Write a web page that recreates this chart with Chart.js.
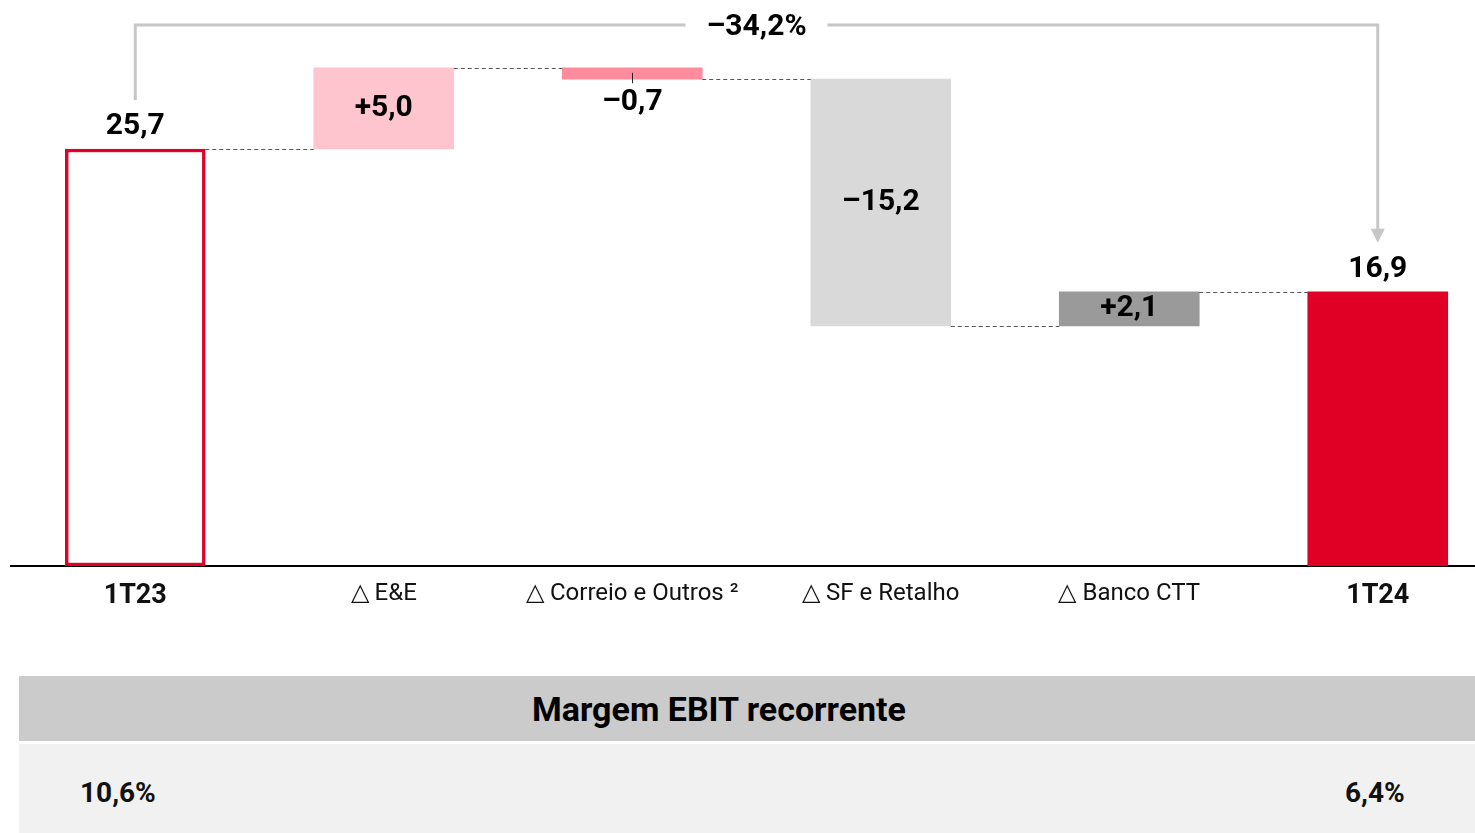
<!DOCTYPE html>
<html>
<head>
<meta charset="utf-8">
<script src="https://cdn.jsdelivr.net/npm/chart.js@4.4.0/dist/chart.umd.min.js"></script>
<style>
  html, body { margin: 0; padding: 0; overflow: hidden; background: #fff; }
  body { width: 1475px; height: 833px; position: relative; font-family: Roboto, 'Noto Sans', sans-serif; }
  #chart { position: absolute; left: 0; top: 0; }
  .band { position: absolute; left: 19px; width: 1456px; }
  .head { top: 676px; height: 65px; background: #cbcbcb; }
  .head span { position: absolute; left: 0; width: 1400px; top: 13px; text-align: center; font-weight: 700; font-size: 34px; color: #000; }
  .row { top: 744px; height: 89px; background: #f1f1f1; }
  .row span { position: absolute; top: 32px; font-weight: 700; font-size: 28px; color: #111; }
</style>
</head>
<body>
<canvas id="chart" width="1502" height="640"></canvas>
<div class="band head"><span id="tableTitle"></span></div>
<div class="band row"><span id="marginStart" style="left:61px"></span><span id="marginEnd" style="left:1326px"></span></div>

<script>
const categories = ['1T23', '△ E&E', '△ Correio e Outros ²', '△ SF e Retalho', '△ Banco CTT', '1T24'];
// first and last are totals, the rest are changes
const values = [25.7, 5.0, -0.7, -15.2, 2.1, 16.9];
const barColors = ['#ffffff', '#ffc5cf', '#ff8c9d', '#d9d9d9', '#9a9a9a', '#e00026'];
const marginTitle = 'Margem EBIT recorrente';
const margins = ['10,6%', '6,4%'];

document.getElementById('tableTitle').textContent = marginTitle;
document.getElementById('marginStart').textContent = margins[0];
document.getElementById('marginEnd').textContent = margins[1];

// running totals and floating bar ranges
const runningTotals = [];
const ranges = [];
let total = 0;
values.forEach((v, i) => {
  if (i === 0 || i === values.length - 1) {
    total = v;
    ranges.push([0, v]);
  } else {
    ranges.push([Math.min(total, total + v), Math.max(total, total + v)]);
    total += v;
  }
  runningTotals.push(total);
});

const fmt = (v, sign) => {
  const s = Math.abs(v).toFixed(1).replace('.', ',');
  if (!sign) return s;
  return (v < 0 ? '–' : '+') + s;
};

const waterfallExtras = {
  id: 'waterfallExtras',
  afterDatasetsDraw(chart) {
    const ctx = chart.ctx;
    const meta = chart.getDatasetMeta(0);
    const y = chart.scales.y;
    const bars = meta.data;
    ctx.save();

    // dashed connectors
    ctx.strokeStyle = '#555';
    ctx.lineWidth = 1.2;
    ctx.setLineDash([4, 3]);
    for (let i = 0; i < bars.length - 1; i++) {
      const a = bars[i], b = bars[i + 1];
      const py = Math.round(y.getPixelForValue(runningTotals[i])) + 0.5;
      ctx.beginPath();
      ctx.moveTo(a.x + a.width / 2, py);
      ctx.lineTo(b.x - b.width / 2, py);
      ctx.stroke();
    }
    ctx.setLineDash([]);

    // value labels
    ctx.fillStyle = '#000';
    ctx.font = 'bold 30px Roboto';
    ctx.textAlign = 'center';
    ctx.textBaseline = 'middle';
    bars.forEach((bar, i) => {
      const top = Math.min(bar.y, bar.base);
      const bottom = Math.max(bar.y, bar.base);
      const isTotal = i === 0 || i === bars.length - 1;
      const text = fmt(values[i], !isTotal);
      if (isTotal) {
        ctx.fillText(text, bar.x, top - 22);
      } else if (bottom - top > 30) {
        ctx.fillText(text, bar.x, (top + bottom) / 2);
      } else {
        ctx.fillText(text, bar.x, bottom + 23);
        ctx.strokeStyle = '#222';
        ctx.lineWidth = 1;
        ctx.beginPath();
        ctx.moveTo(Math.round(bar.x) + 0.5, top + 5);
        ctx.lineTo(Math.round(bar.x) + 0.5, bottom + 4);
        ctx.stroke();
      }
    });

    // overall change bracket
    const first = bars[0], last = bars[bars.length - 1];
    const change = (values[values.length - 1] / values[0] - 1) * 100;
    const pctText = '–' + Math.abs(change).toFixed(1).replace('.', ',') + '%';
    const topY = 25;
    const midX = (first.x + last.x) / 2;
    ctx.font = 'bold 30px Roboto';
    const tw = ctx.measureText(pctText).width;
    ctx.fillText(pctText, midX, topY + 2);

    const startY = Math.min(first.y, first.base) - 49;
    const tipY = Math.min(last.y, last.base) - 49;
    ctx.strokeStyle = '#c6c6c6';
    ctx.lineWidth = 3;
    ctx.beginPath();
    ctx.moveTo(first.x, startY);
    ctx.lineTo(first.x, topY);
    ctx.lineTo(midX - tw / 2 - 21, topY);
    ctx.moveTo(midX + tw / 2 + 21, topY);
    ctx.lineTo(last.x, topY);
    ctx.lineTo(last.x, tipY - 12);
    ctx.stroke();
    ctx.fillStyle = '#c6c6c6';
    ctx.beginPath();
    ctx.moveTo(last.x - 7, tipY - 14);
    ctx.lineTo(last.x + 7, tipY - 14);
    ctx.lineTo(last.x, tipY);
    ctx.closePath();
    ctx.fill();

    ctx.restore();
  }
};

new Chart(document.getElementById('chart'), {
  type: 'bar',
  data: {
    labels: categories,
    datasets: [{
      data: ranges,
      backgroundColor: barColors,
      borderColor: ['#e0002a', 'transparent', 'transparent', 'transparent', 'transparent', 'transparent'],
      borderWidth: [3.5, 0, 0, 0, 0, 0],
      borderSkipped: false,
      barThickness: 140,
    }],
  },
  options: {
    responsive: false,
    animation: false,
    layout: { padding: { left: 11, right: 0, top: 0, bottom: 0 } },
    plugins: {
      legend: { display: false },
      tooltip: { enabled: false },
    },
    scales: {
      x: {
        grid: { display: false, drawTicks: false },
        border: { display: true, color: '#000', width: 2 },
        afterFit: (scale) => { scale.height = 74; },
        ticks: {
          autoSkip: false,
          maxRotation: 0,
          padding: 14,
          color: '#111',
          font: (c) => {
            const bold = c.index === 0 || c.index === categories.length - 1;
            return { family: 'Roboto', size: bold ? 27 : 24, weight: bold ? 'bold' : 'normal' };
          },
        },
      },
      y: {
        display: false,
        min: 0,
        max: 34.88,
      },
    },
  },
  plugins: [waterfallExtras],
});
</script>
</body>
</html>
